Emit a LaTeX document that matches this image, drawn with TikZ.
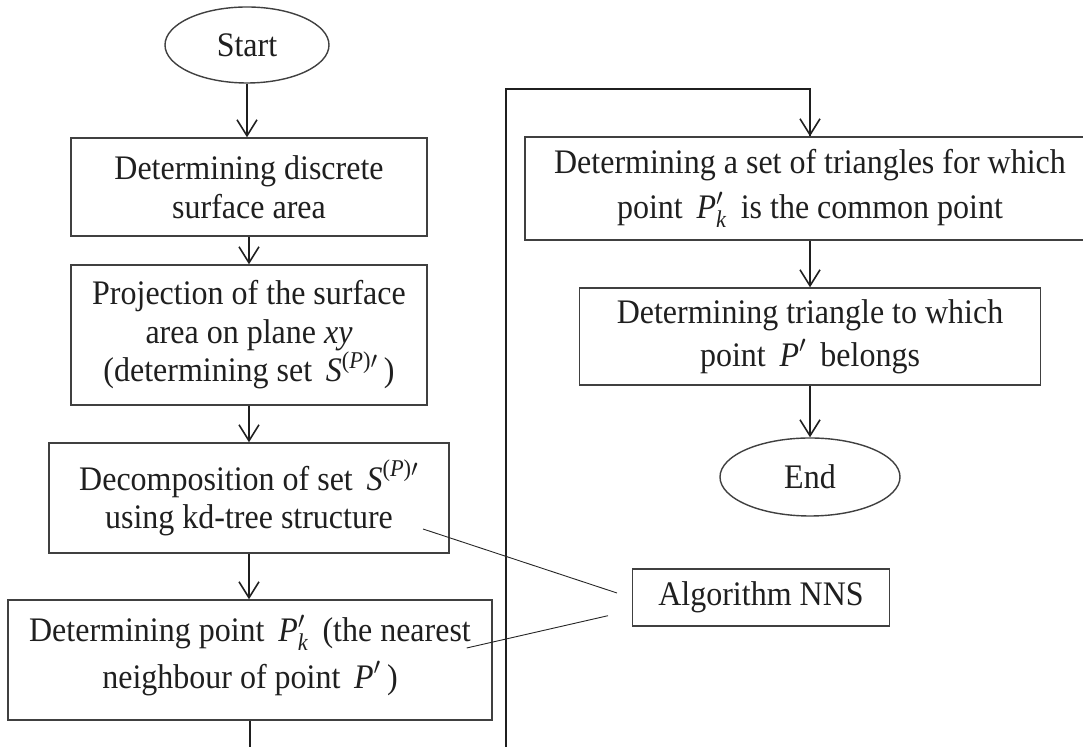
\documentclass[tikz,border=0pt]{standalone}
\usepackage{amsmath}
\usepackage{fontspec}
\setmainfont{Liberation Serif}[FakeStretch=0.93]
\usetikzlibrary{arrows.meta,shapes.geometric}

% symbols used in the step texts
\newcommand{\Sp}{$\textit{S}^{\text{(\textit{P})}\prime}$}
\newcommand{\Pk}{$\textit{P}'_{\textit{k}}$}
\newcommand{\Pp}{$\textit{P}'$}

\begin{document}
\begin{tikzpicture}[x=0.5pt,y=-0.5pt,
  every node/.style={font=\fontsize{17.2pt}{19.3pt}\selectfont, text=black!88},
  stepbox/.style={draw=black!75, line width=0.7pt, rectangle, align=center, inner sep=0pt},
  termin/.style={draw=black!75, line width=0.7pt, ellipse, inner sep=0pt},
  flow/.style={draw=black!88, line width=0.8pt,
    -{Straight Barb[length=8pt,width=10pt,line width=0.8pt]}},
  loopline/.style={draw=black!88, line width=1pt},
  link/.style={draw=black!85, line width=0.45pt},
]
\useasboundingbox (0,0) rectangle (1083,747);
\clip (0,0) rectangle (1083,747);

% left column
\node[termin, minimum width=82pt, minimum height=38pt] (start) at (247,45) {Start};
\node[stepbox, minimum width=178pt, minimum height=49pt] (b1) at (249,187)
  {Determining discrete\\surface area};
\node[stepbox, minimum width=178pt, minimum height=70pt] (b2) at (249,335)
  {Projection of the surface\\area on plane \textit{xy}\\(determining set \,\Sp\,)};
\node[stepbox, minimum width=200pt, minimum height=55pt] (b3) at (249,498)
  {Decomposition of set \,\Sp\\using kd-tree structure};
\node[stepbox, minimum width=242pt, minimum height=60pt] (b4) at (250,660)
  {Determining point \,\Pk\, (the nearest\\[4pt]neighbour of point \,\Pp\,)\rule[-8.5pt]{0pt}{1pt}};

% right column
\node[stepbox, minimum width=285pt, minimum height=51.5pt] (b5) at (810,188.5)
  {Determining a set of triangles for which\\[3pt]point \,\Pk\, is the common point};
\node[stepbox, minimum width=230.5pt, minimum height=48.5pt] (b6) at (810,336.5)
  {Determining triangle to which\\[2pt]point \,\Pp\, belongs};
\node[termin, minimum width=90pt, minimum height=39pt] (end) at (810,477) {End};

\node[stepbox, minimum width=128.5pt, minimum height=28.5pt] (nns) at (761,597.5)
  {Algorithm NNS};

% flow arrows
\draw[flow] (start.south) -- (start.south |- b1.north);
\draw[flow] (b1.south) -- (b2.north);
\draw[flow] (b2.south) -- (b3.north);
\draw[flow] (b3.south) -- (b3.south |- b4.north);
\draw[flow] (b5.south) -- (b6.north);
\draw[flow] (b6.south) -- (end.north);

% jump from the bottom of the left column to the top of the right column
\coordinate (tailL) at (250,747);
\coordinate (loopbot) at (506,747);
\coordinate (looptop) at (506,89.5);
\draw[loopline] (b4.south) -- (tailL);
\draw[loopline] (loopbot) -- (looptop) -| (b5.north);
\draw[flow] (b5.north |- 0,100) -- (b5.north);

% call-out lines to the NNS algorithm
\coordinate (l1a) at (423,529);
\coordinate (l1b) at (617,593);
\coordinate (l2a) at (466.7,648);
\coordinate (l2b) at (608,615.7);
\draw[link] (l1a) -- (l1b);
\draw[link] (l2a) -- (l2b);
\end{tikzpicture}
\end{document}
